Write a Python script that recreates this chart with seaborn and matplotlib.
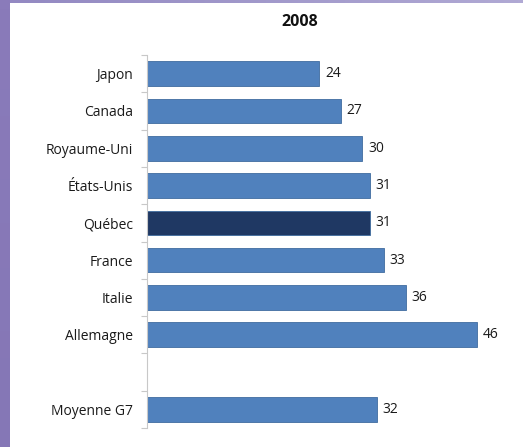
import numpy as np
import pandas as pd
import matplotlib
matplotlib.use("Agg")
import matplotlib.pyplot as plt
import seaborn as sns

# Data
countries = ["Japon", "Canada", "Royaume-Uni", "États-Unis", "Québec",
             "France", "Italie", "Allemagne", "", "Moyenne G7"]
values = [24, 27, 30, 31, 31, 33, 36, 46, np.nan, 32]
highlight = "Québec"
title = "2008"

BLUE = "#5081BD"
DARK = "#1F3863"

sns.set_theme(style="white")
plt.rcParams['font.family'] = ['Open Sans', 'DejaVu Sans']

df = pd.DataFrame({"pays": countries, "valeur": values})
palette = {c: (DARK if c == highlight else BLUE) for c in countries}

fig = plt.figure(figsize=(5.23, 4.47), dpi=100)

# purple frame (left and top strips of the slide)
frame_left = fig.add_axes([0, 0, 10 / 523, 1])
frame_left.imshow(np.linspace(0, 1, 50).reshape(-1, 1), aspect="auto",
                  cmap=matplotlib.colors.LinearSegmentedColormap.from_list("p", ["#8A7BBA", "#8577B6"]))
frame_left.axis("off")
frame_top = fig.add_axes([10 / 523, 1 - 3 / 447, 1 - 10 / 523, 3 / 447])
frame_top.imshow(np.linspace(0, 1, 100).reshape(1, -1), aspect="auto",
                 cmap=matplotlib.colors.LinearSegmentedColormap.from_list("q", ["#9389C2", "#B0A9D4"]))
frame_top.axis("off")

ax = fig.add_axes([147 / 523, 19 / 447, 362 / 523, 373 / 447])
sns.barplot(data=df, x="valeur", y="pays", hue="pays", order=countries,
            palette=palette, legend=False, width=0.66, ax=ax,
            edgecolor="#3F6C9F", linewidth=0.6, saturation=1)

for cont in ax.containers:
    ax.bar_label(cont, fmt="%d", padding=4, fontsize=10, color="#1a1a1a")

ax.set_xlim(0, 50.4)
ax.set_ylim(len(countries) - 0.5, -0.5)
ax.set_xlabel("")
ax.set_ylabel("")
ax.set_xticks([])
ax.tick_params(axis="y", which="major", left=False, length=0, pad=10,
               labelsize=10, labelcolor="#1a1a1a")
ax.set_yticks(np.arange(len(countries) + 1) - 0.5, minor=True)
ax.tick_params(axis="y", which="minor", left=True, length=4, color="#C8C8C8", width=0.8)
for side in ["top", "right", "bottom"]:
    ax.spines[side].set_visible(False)
ax.spines["left"].set_color("#C8C8C8")
ax.spines["left"].set_linewidth(0.8)

fig.text(300 / 523, 1 - 22 / 447, title, ha="center", va="center",
         fontsize=11.5, fontweight="bold", color="#111111")

fig.savefig("out.png", dpi=100)
